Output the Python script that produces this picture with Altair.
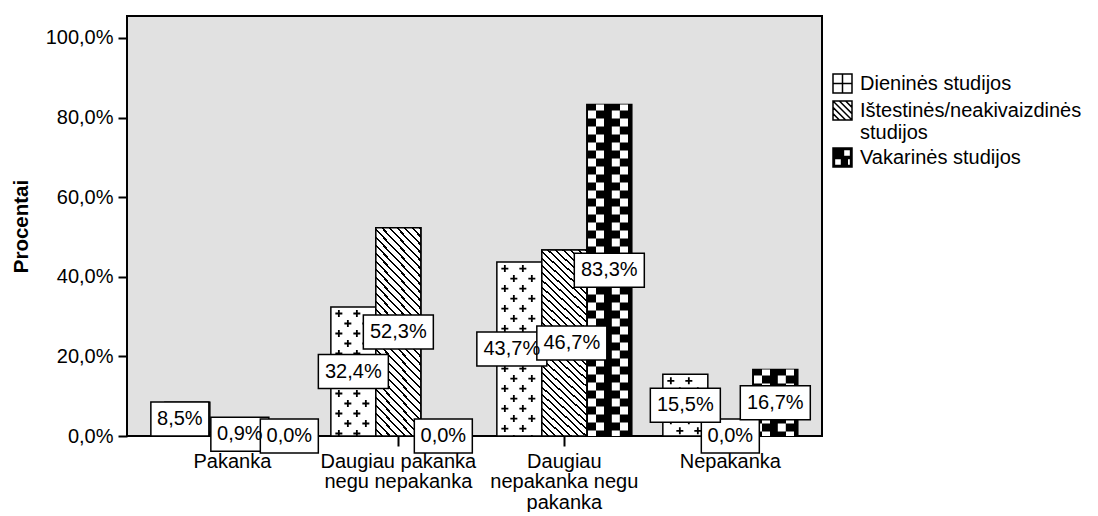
import json
import altair as alt
import pandas as pd

# ---------------- data ----------------
categories = ["Pakanka", "Daugiau pakanka negu nepakanka",
              "Daugiau nepakanka negu pakanka", "Nepakanka"]
category_lines = [["Pakanka"], ["Daugiau pakanka", "negu nepakanka"],
                  ["Daugiau", "nepakanka negu", "pakanka"], ["Nepakanka"]]
series = ["Dieninės studijos", "Ištestinės/neakivaizdinės studijos", "Vakarinės studijos"]
series_lines = [["Dieninės studijos"], ["Ištestinės/neakivaizdinės", "studijos"],
                ["Vakarinės studijos"]]
dienines = [8.5, 32.4, 43.7, 15.5]
istestines = [0.9, 52.3, 46.7, 0.0]
vakarines = [0.0, 0.0, 83.3, 16.7]
y_ticks = [0, 20, 40, 60, 80, 100]

rows = []
for vals, s in zip([dienines, istestines, vakarines], series):
    for c, v in zip(categories, vals):
        rows.append({"cat": c, "series": s, "v": v})
df = pd.DataFrame(rows)

FONT = "Liberation Sans"
YDOM = [0, 105.5]
SER = json.dumps(series, ensure_ascii=False)

# ---------------- shared encodings ----------------
x_lbl = "(" + json.dumps(dict(zip(categories, category_lines)), ensure_ascii=False) + ")[datum.label]"
X = alt.X("cat:N", sort=categories, title=None,
          scale=alt.Scale(domain=categories, paddingInner=0.187, paddingOuter=0.187, align=0.61),
          axis=alt.Axis(labelExpr=x_lbl))
XO = alt.XOffset("series:N", sort=series,
                 scale=alt.Scale(domain=series, paddingInner=0, paddingOuter=0))
Y = alt.Y("v:Q", title="Procentai",
          scale=alt.Scale(domain=YDOM, nice=False, zero=True),
          axis=alt.Axis(values=y_ticks,
                        labelExpr="replace(format(datum.value, '.1f'), '.', ',') + '%'"))


def XQ(field):
    # pixel-like offset inside the category band (band is 135px wide, 3 bars of 45px)
    return alt.XOffset(f"{field}:Q", scale=alt.Scale(domain=[-67.5, 67.5], nice=False, zero=False))


base = alt.Chart(df).transform_calculate(
    j=f"indexof({SER}, datum.series)", zero="0"
)

# base bars: white / black fill
bars = base.mark_bar(stroke="black", strokeWidth=1.5).encode(
    x=X, xOffset=XO, y=Y,
    color=alt.condition(alt.datum.series == series[2], alt.value("black"), alt.value("white")),
)

# diagonal hatch for second series (gradient stripes)
w_bar, h_ref, n_str, frac = 45.0, 197.0, 32, 0.72
a = w_bar * (w_bar + h_ref) / (w_bar ** 2 + h_ref ** 2)
b = -a * h_ref / w_bar
stops = []
for i in range(n_str):
    o0, o1, o2 = i / n_str, (i + frac) / n_str, (i + 1) / n_str
    stops += [alt.GradientStop(color="white", offset=o0), alt.GradientStop(color="white", offset=o1),
              alt.GradientStop(color="black", offset=o1), alt.GradientStop(color="black", offset=min(o2, 1.0))]
hatch = base.transform_filter(alt.datum.series == series[1]).mark_bar(
    color=alt.Gradient(gradient="linear", stops=stops, x1=0, y1=1, x2=a, y2=1 + b),
    stroke="black", strokeWidth=1.5,
).encode(x=X, xOffset=XO, y=Y)


def rule_layer(sname, dx, width, dash, offset, color):
    return base.transform_filter(alt.datum.series == sname).transform_filter("datum.v > 0") \
        .transform_calculate(pos=f"(datum.j - 1) * 45 + ({dx})").mark_rule(
            color=color, strokeWidth=width, strokeDash=dash, strokeDashOffset=offset
        ).encode(x=X, xOffset=XQ("pos"), y=Y, y2=alt.Y2("zero:Q"))


layers = [bars, hatch]
# plus pattern for first series
for dx in (-14.5, 3.5):
    layers.append(rule_layer(series[0], dx, 1.8, [7, 13], 17, "black"))
    layers.append(rule_layer(series[0], dx, 7, [1.8, 18.2], 14.4, "black"))
for dx in (-5.5, 12.5):
    layers.append(rule_layer(series[0], dx, 1.8, [7, 13], 7, "black"))
    layers.append(rule_layer(series[0], dx, 7, [1.8, 18.2], 4.4, "black"))
# checker pattern for third series
for dx in (-17.3, 6.5):
    layers.append(rule_layer(series[2], dx, 8, [8, 8], 10, "white"))
for dx in (-9.3, 14.7):
    layers.append(rule_layer(series[2], dx, 8, [8, 8], 2, "white"))

# value label boxes + text (nudged apart where neighbouring labels would collide)
lab = base.transform_calculate(
    label="replace(format(datum.v, '.1f'), '.', ',') + '%'",
    ymid="datum.v / 2",
    yd="datum.j == 0 ? datum.v / 2 : -1000",
    yi="datum.j == 1 ? datum.v / 2 : -1000",
    yv="datum.j == 2 ? datum.v / 2 : -1000",
).transform_joinaggregate(
    yD="max(yd)", yI="max(yi)", yV="max(yv)", groupby=["cat"]
).transform_calculate(
    odi="abs(datum.yD - datum.yI) < 6.3",
    oiv="abs(datum.yI - datum.yV) < 6.3",
).transform_calculate(
    lpos="(datum.j - 1) * 45 + (datum.j == 0 ? (datum.odi ? -7.5 : 0) : "
         "datum.j == 1 ? (datum.odi ? 7.5 : 0) : (datum.oiv ? 12 : 0))"
)
for nchar, hw in ((4, 29), (5, 35)):
    path = f"M{-hw},-17H{hw}V17H{-hw}Z"
    layers.append(
        lab.transform_filter(f"length(datum.label) == {nchar}").mark_point(
            shape=path, size=4, filled=True, fill="white", stroke="black",
            strokeWidth=1.5, opacity=1,
        ).encode(x=X, xOffset=XQ("lpos"), y=alt.Y("ymid:Q", scale=alt.Scale(domain=YDOM, nice=False)))
    )
layers.append(
    lab.mark_text(font=FONT, fontSize=20, color="black", baseline="middle", align="center").encode(
        x=X, xOffset=XQ("lpos"), y=alt.Y("ymid:Q", scale=alt.Scale(domain=YDOM, nice=False)),
        text="label:N",
    )
)

# legend (invisible points carrying color + shape)
p_plus = "M-1,-1H1V1H-1Z M0,-1V1 M-1,0H1"
p_hatch = ("M-1,-1H1V1H-1Z M-1,-1L1,1 M-0.33,-1L1,0.33 M0.33,-1L1,-0.33 "
           "M-1,-0.33L0.33,1 M-1,0.33L-0.33,1")
p_check = ("M-1,-1H1V1H-1Z M0.1,-0.85V-0.1H0.85V-0.85Z M-0.85,0.1V0.85H-0.1V0.1Z "
           "M0.5,0.1V0.85H0.85V0.1Z")
leg_lbl = "(" + json.dumps(dict(zip(series, series_lines)), ensure_ascii=False) + ")[datum.label]"
leg = alt.Legend(title=None, orient="none", legendX=705, legendY=57, padding=0,
                 symbolSize=361, symbolStrokeWidth=1.5, symbolOpacity=1,
                 labelFont=FONT, labelFontSize=20, labelColor="black", labelLimit=400,
                 labelOffset=7, rowPadding=2, labelExpr=leg_lbl)
layers.append(
    base.mark_point(filled=True, opacity=0, stroke="black", strokeWidth=1.5).encode(
        x=X, y=Y,
        color=alt.Color("series:N", scale=alt.Scale(domain=series, range=["white", "white", "black"]), legend=leg),
        shape=alt.Shape("series:N", scale=alt.Scale(domain=series, range=[p_plus, p_hatch, p_check]), legend=leg),
    )
)

chart = alt.layer(*layers).resolve_scale(xOffset="independent").properties(
    width=695, height=420,
    padding={"left": 3, "top": 8, "right": 0, "bottom": 0},
).configure_view(
    fill="#e1e1e1", stroke="black", strokeWidth=2,
).configure_axisX(
    labelFont=FONT, labelFontSize=20, labelColor="black", labelLineHeight=20.5, labelAngle=0,
    labelPadding=5, tickSize=10, tickWidth=2, tickColor="black", domain=False, grid=False,
    labelOverlap=False,
).configure_axisY(
    labelFont=FONT, labelFontSize=20, labelColor="black", labelPadding=5,
    titleFont=FONT, titleFontSize=20.5, titleFontWeight="bold", titleColor="black", titlePadding=14,
    tickSize=9, tickWidth=2, tickColor="black", domain=False, grid=False,
)

chart.save("out.html", embed_options={"renderer": "svg", "actions": False})
